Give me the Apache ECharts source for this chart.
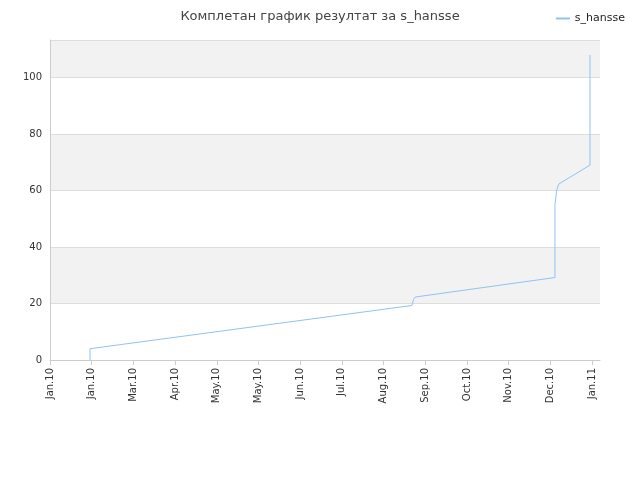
<!DOCTYPE html>
<html><head><meta charset="utf-8">
<script src="https://cdn.jsdelivr.net/npm/echarts@6/dist/echarts.min.js"></script>
<style>html,body{margin:0;padding:0}#c{width:640px;height:480px}</style>
</head><body><div id="c"></div>
<script>
const tickLabels = ["Jan.10","Jan.10","Mar.10","Apr.10","May.10","May.10","Jun.10","Jul.10","Aug.10","Sep.10","Oct.10","Nov.10","Dec.10","Jan.11"];
const xValues = [0.96,0.96,8.68,8.72,8.76,12.11,12.11,12.15,12.2,12.95,12.95];
const yValues = [0,4,19.3,21.5,22.3,29.2,55,60,62.3,69,108];
const seriesName = "s_hansse";
const chart = echarts.init(document.getElementById('c'));
chart.setOption({
  animation:false,
  title:{text:"Комплетан график резултат за s_hansse",left:'center',top:5,textStyle:{fontSize:13,fontWeight:'normal',color:'#444',fontFamily:'DejaVu Sans'}},
  legend:{right:10,top:8,itemWidth:14,itemHeight:2,textStyle:{fontSize:11,color:'#222',fontFamily:'DejaVu Sans'},data:[{name:seriesName,icon:'rect'}]},
  grid:{left:50,right:40,top:40,bottom:120},
  xAxis:{type:'value',min:0,max:13.19,interval:1,
    axisLine:{lineStyle:{color:'#ccc'}},axisTick:{show:true,lineStyle:{color:'#ccc'}},splitLine:{show:false},
    axisLabel:{rotate:90,fontSize:10,color:'#333',fontFamily:'DejaVu Sans',showMaxLabel:false,formatter:v=>tickLabels[Math.round(v)]||''}},
  yAxis:{type:'value',min:0,max:113.3,interval:20,
    axisLine:{show:true,lineStyle:{color:'#ccc'}},axisTick:{show:false},
    axisLabel:{fontSize:10,color:'#333',fontFamily:'DejaVu Sans',showMaxLabel:false},
    splitLine:{lineStyle:{color:'#ddd'}},
    splitArea:{show:true,areaStyle:{color:['#ffffff','#f2f2f2']}}},
  series:[{name:seriesName,type:'line',symbol:'none',data:xValues.map((x,i)=>[x,yValues[i]]),
    lineStyle:{color:'#8ec3f2',width:1},itemStyle:{color:'#8ec3f2'}}]
});
</script></body></html>
